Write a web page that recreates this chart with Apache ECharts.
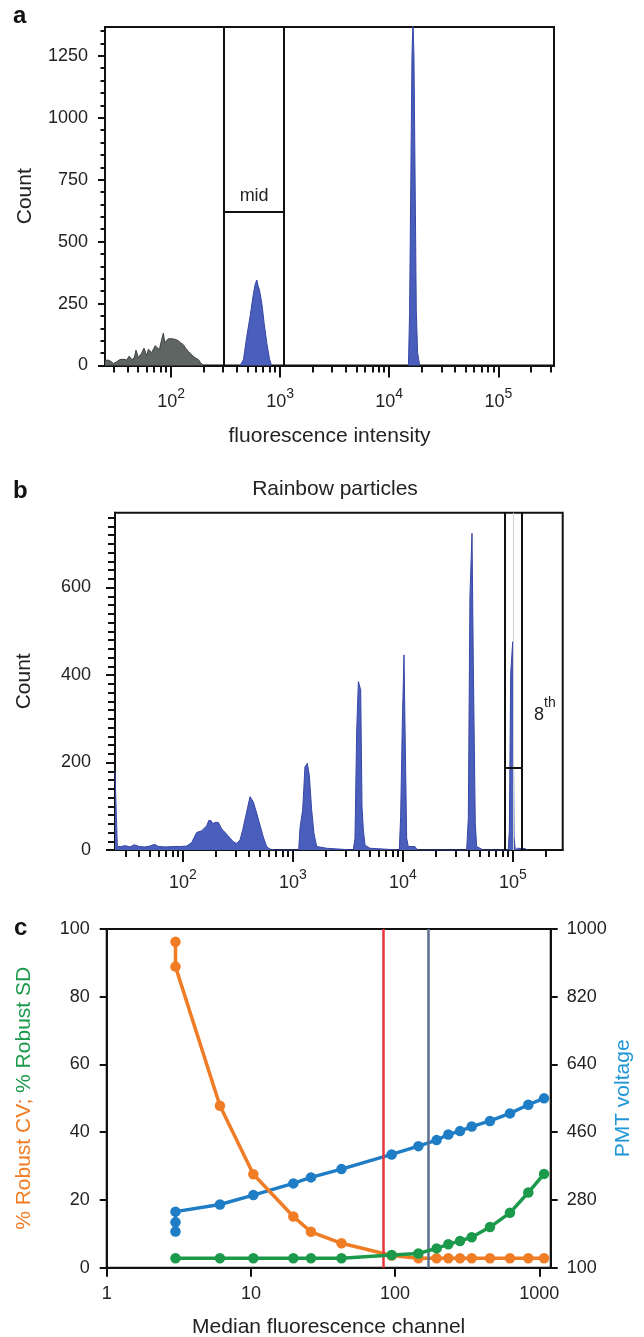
<!DOCTYPE html>
<html>
<head>
<meta charset="utf-8">
<script src="https://cdn.jsdelivr.net/npm/echarts@6/dist/echarts.min.js"></script>
<style>
  html, body { margin: 0; padding: 0; background: #fff; }
  #chart { width: 644px; height: 1337px; }
</style>
</head>
<body>
<div id="chart"></div>
<script>
// ---- panel a : one sample, three populations ----
const countTicksA = [0, 250, 500, 750, 1000, 1250];
const decadeTicks = [100, 1000, 10000, 100000];
const dimPeakA = [
  [24.8, 20], [26.5, 22], [28.2, 16], [29.6, 8], [31.5, 14], [34.0, 24], [37.0, 25],
  [39.2, 22], [41.4, 38], [43.6, 24], [46.0, 30], [47.7, 62], [50.1, 32], [53.5, 48],
  [56.5, 70], [59.8, 40], [62.0, 66], [64.1, 70], [66.5, 52], [68.8, 57], [71.5, 80],
  [74.0, 84], [78.2, 64], [81.5, 100], [85.0, 131], [87.5, 92], [90.0, 90], [94.4, 108],
  [101.5, 108], [108.8, 106], [116.7, 100], [122, 92], [129.7, 84], [136, 70], [144.2, 57],
  [152, 46], [160.2, 37], [168, 30], [178.0, 24], [186, 12], [191.2, 5], [197.9, 0]
];
const midPeakA = [
  [430, 0], [461, 24], [495, 118], [530, 198], [569, 290], [592, 330], [611, 345],
  [628, 322], [646, 305], [679, 252], [713, 171], [755, 90], [798, 28], [834, 0]
];
const brightPeakA = [
  [15000, 0], [15370, 213], [15830, 815], [16160, 1242], [16500, 1400], [16860, 1242],
  [17330, 675], [17700, 225], [18200, 52], [19000, 0]
];
const midGateA = [306, 1090, 622];   // left edge, right edge, marker level

// ---- panel b : rainbow particles ----
const countTicksB = [0, 200, 400, 600];
const rainbowB = [
  [24.1, 179], [25.0, 179], [25.3, 8], [27, 8], [30, 10], [33, 7], [36, 12], [40, 8],
  [45, 7], [50, 9], [55, 13], [60, 8], [70, 7], [80, 8], [95, 8], [108, 9], [120, 17],
  [133, 40], [148, 44], [164, 55], [172, 68], [180, 67], [187, 60], [195, 63], [210, 63],
  [225, 48], [246, 38], [268, 27], [287, 19], [308, 15], [330, 23], [349, 46], [380, 88],
  [407, 122], [436, 110], [468, 84], [501, 57], [537, 30], [576, 8], [618, 2], [700, 0],
  [1127, 0], [1158, 50], [1225, 92], [1285, 190], [1350, 198], [1407, 171], [1478, 92],
  [1552, 38], [1641, 8], [2024, 4], [2100, 0],
  [3530, 0], [3660, 27], [3795, 274], [3930, 385], [4125, 366], [4240, 99], [4360, 46],
  [4515, 11], [5012, 4], [5200, 0],
  [9250, 0], [9520, 76], [9860, 290], [10210, 446], [10500, 236], [10800, 27], [11170, 8],
  [12850, 8], [13500, 0],
  [37900, 0], [39250, 72], [40600, 579], [42400, 724], [43600, 419], [45400, 61],
  [46750, 8], [53700, 0],
  [90600, 0], [92700, 46], [95300, 404], [99400, 476], [102200, 30], [105000, 0],
  [110000, 4], [130000, 3], [135000, 0]
];
const gate8thB = [83400, 120000, 187];
const label8thB = [195000, 320];

// ---- panel c : performance vs. PMT voltage ----
const channelTicks = [1, 10, 100, 1000];
const pctTicks = [0, 20, 40, 60, 80, 100];
const voltTicks = [100, 280, 460, 640, 820, 1000];
const cvX = [3.0, 3.0, 6.1, 10.4, 19.7, 26.1, 42.5, 94.7, 145, 194, 234, 282, 340, 455, 626, 839, 1079];
const cvY = [96.2, 88.9, 47.8, 27.6, 15.1, 10.6, 7.2, 3.6, 2.8, 2.8, 2.8, 2.8, 2.8, 2.8, 2.8, 2.8, 2.8];
const sdX = [3.0, 6.1, 10.4, 19.7, 26.1, 42.5, 94.7, 145, 194, 234, 282, 340, 455, 626, 839, 1079];
const sdY = [2.8, 2.8, 2.8, 2.8, 2.8, 2.8, 3.75, 4.2, 5.7, 6.9, 7.9, 9.0, 12.0, 16.2, 22.2, 27.7];
const pmtX = [3.0, 3.0, 3.0, 6.1, 10.4, 19.7, 26.1, 42.5, 94.7, 145, 194, 234, 282, 340, 455, 626, 839, 1079];
const pmtY = [196, 221, 249, 268, 293, 324, 340, 362, 401, 423, 439, 454, 463, 475, 490, 510, 533, 550];
const redLineC = 82.8;
const greyLineC = 170;

// minor ticks of the log axes: 2..9 x 10^n
const minorDecadeTicks = [];
for (let d = 1; d <= 5; d++) {
  for (let k = 2; k <= 9; k++) minorDecadeTicks.push(k * Math.pow(10, d));
}

const FONT = '"Liberation Sans", Arial, Helvetica, sans-serif';
const INK = '#222';
const BLUE_FILL = '#4a5ebb';
const BLUE_EDGE = '#3747a8';
const ORANGE = '#f07d26';
const GREEN = '#1b9a4c';
const PMT_BLUE = '#1f7dc6';

const plain = v => String(v);
const powRich = {
  b: { fontSize: 18, lineHeight: 24, verticalAlign: 'bottom', color: INK, fontFamily: FONT },
  s: { fontSize: 14, lineHeight: 20, verticalAlign: 'top', color: INK, fontFamily: FONT }
};
const powLabel = v => '{b|10}{s|' + Math.round(Math.log10(v)) + '}';

function logX(gridIndex, min, max, margin, name, nameGap) {
  return [{
    type: 'log', gridIndex, min, max, position: 'bottom',
    name, nameLocation: 'middle', nameGap, nameMoveOverlap: false,
    nameTextStyle: { fontSize: 21, color: INK, fontFamily: FONT },
    axisLine: { lineStyle: { color: '#111', width: 2 } },
    axisTick: { inside: false, length: 12, lineStyle: { color: '#111', width: 2 }, customValues: decadeTicks },
    axisLabel: { margin, formatter: powLabel, rich: powRich, customValues: decadeTicks },
    splitLine: { show: false }
  }, {
    type: 'log', gridIndex, min, max, position: 'bottom',
    axisLine: { show: false },
    axisTick: { inside: false, length: 7, lineStyle: { color: '#111', width: 2 }, customValues: minorDecadeTicks },
    axisLabel: { show: false },
    splitLine: { show: false }
  }];
}

function countY(gridIndex, max, interval, ticks, minorSplit, minorLen, tickLen, margin, nameGap) {
  return {
    type: 'value', gridIndex, min: 0, max, interval,
    name: 'Count', nameLocation: 'middle', nameGap, nameRotate: 90, nameMoveOverlap: false,
    nameTextStyle: { fontSize: 21, color: INK, fontFamily: FONT },
    axisLine: { show: true, lineStyle: { color: '#111', width: 2 } },
    axisTick: { show: true, length: tickLen, lineStyle: { color: '#111', width: 2 }, customValues: ticks },
    minorTick: { show: true, splitNumber: minorSplit, length: minorLen, lineStyle: { color: '#111', width: 2 } },
    axisLabel: { margin, fontSize: 18, color: INK, fontFamily: FONT, formatter: plain, customValues: ticks },
    splitLine: { show: false }
  };
}

function histSeries(data, xi, yi, fill, edge) {
  return {
    type: 'line', data, xAxisIndex: xi, yAxisIndex: yi,
    symbol: 'none', showSymbol: false, silent: true,
    lineStyle: { color: edge, width: 1 },
    areaStyle: { color: fill, opacity: 1 },
    z: 2
  };
}

function gateSeries(xi, yi, gate, labelText) {
  const lbl = { show: !!labelText, formatter: labelText, position: 'middle', distance: 6,
    fontSize: 18, color: INK, fontFamily: FONT };
  return {
    type: 'line', data: [], xAxisIndex: xi, yAxisIndex: yi, z: 3,
    markLine: {
      silent: true, symbol: ['none', 'none'], animation: false,
      lineStyle: { color: '#111', width: 2, type: 'solid' },
      label: { show: false },
      data: [
        { xAxis: gate[0] },
        { xAxis: gate[1] },
        [{ coord: [gate[0], gate[2]], label: lbl }, { coord: [gate[1], gate[2]] }]
      ]
    }
  };
}

const pairs = (xs, ys) => xs.map((x, i) => [x, ys[i]]);

function pointSeries(name, xs, ys, yi, color, z) {
  return {
    name, type: 'line', data: pairs(xs, ys), xAxisIndex: 4, yAxisIndex: yi,
    symbol: 'circle', symbolSize: 10.5, showSymbol: true, silent: true,
    lineStyle: { color, width: 3.5 }, itemStyle: { color }, z
  };
}

const gridBase = { show: true, borderColor: '#111', borderWidth: 2, backgroundColor: 'transparent',
  containLabel: false, outerBoundsMode: 'none' };

const option = {
  animation: false,
  textStyle: { fontFamily: FONT },
  grid: [
    Object.assign({ left: 105, top: 27, width: 449, height: 338.5 }, gridBase),
    Object.assign({ left: 115, top: 512.7, width: 447.7, height: 337.3 }, gridBase),
    Object.assign({ left: 106.7, top: 929, width: 444, height: 338.7 }, gridBase)
  ],
  xAxis: [
    ...logX(0, 24.8, 324000, 22, 'fluorescence intensity', 60),
    ...logX(1, 24.1, 283000, 18.5, '', 0),
    {
      type: 'log', gridIndex: 2, min: 1, max: 1200, position: 'bottom',
      name: 'Median fluorescence channel', nameLocation: 'middle', nameGap: 49, nameMoveOverlap: false,
      nameTextStyle: { fontSize: 21, color: INK, fontFamily: FONT },
      axisLine: { lineStyle: { color: '#111', width: 2 } },
      axisTick: { length: 9, lineStyle: { color: '#111', width: 2 }, customValues: channelTicks },
      axisLabel: { margin: 17, fontSize: 18, color: INK, fontFamily: FONT, formatter: plain, customValues: channelTicks },
      splitLine: { show: false }
    }
  ],
  yAxis: [
    countY(0, 1366, 250, countTicksA, 5, 4.5, 7, 17, 69),
    countY(1, 771, 200, countTicksB, 10, 7, 9, 24, 80),
    {
      type: 'value', gridIndex: 2, min: 0, max: 100, interval: 20, position: 'left',
      name: '{o|% Robust CV; }{g|% Robust SD}', nameLocation: 'middle', nameGap: 72, nameRotate: 90,
      nameMoveOverlap: false,
      nameTextStyle: { fontSize: 21, fontFamily: FONT, rich: {
        o: { color: ORANGE, fontSize: 21, fontFamily: FONT },
        g: { color: GREEN, fontSize: 21, fontFamily: FONT } } },
      axisLine: { show: true, lineStyle: { color: '#111', width: 2 } },
      axisTick: { show: true, length: 7, lineStyle: { color: '#111', width: 2 }, customValues: pctTicks },
      axisLabel: { margin: 17, fontSize: 18, color: INK, fontFamily: FONT, formatter: plain, customValues: pctTicks },
      splitLine: { show: false }
    },
    {
      type: 'value', gridIndex: 2, min: 100, max: 1000, position: 'right',
      name: 'PMT voltage', nameLocation: 'middle', nameGap: 62, nameRotate: 90, nameMoveOverlap: false,
      nameTextStyle: { fontSize: 21, color: '#2196d6', fontFamily: FONT },
      axisLine: { show: true, lineStyle: { color: '#111', width: 2 } },
      axisTick: { show: true, length: 7, lineStyle: { color: '#111', width: 2 }, customValues: voltTicks },
      axisLabel: { margin: 16, fontSize: 18, color: INK, fontFamily: FONT, formatter: plain, customValues: voltTicks },
      splitLine: { show: false }
    }
  ],
  graphic: [
    { type: 'text', style: { text: 'a', x: 13, y: 16.6, font: 'bold 24px ' + FONT, fill: '#111', textVerticalAlign: 'middle' } },
    { type: 'text', style: { text: 'b', x: 13, y: 491.6, font: 'bold 24px ' + FONT, fill: '#111', textVerticalAlign: 'middle' } },
    { type: 'text', style: { text: 'c', x: 14, y: 928.6, font: 'bold 24px ' + FONT, fill: '#111', textVerticalAlign: 'middle' } },
    { type: 'text', style: { text: 'Rainbow particles', x: 335, y: 489.6, font: '21px ' + FONT, fill: INK,
      textAlign: 'center', textVerticalAlign: 'middle' } }
  ],
  series: [
    // panel a
    histSeries(dimPeakA, 0, 0, '#5e6563', '#3e4442'),
    histSeries(midPeakA, 0, 0, BLUE_FILL, BLUE_EDGE),
    histSeries(brightPeakA, 0, 0, BLUE_FILL, BLUE_EDGE),
    gateSeries(0, 0, midGateA, 'mid'),
    // panel b
    {
      type: 'line', data: [], xAxisIndex: 2, yAxisIndex: 1, z: 1,
      markLine: { silent: true, symbol: ['none', 'none'], animation: false, label: { show: false },
        lineStyle: { color: '#cfcfcf', width: 1, type: 'solid' }, data: [{ xAxis: 100000 }] }
    },
    histSeries(rainbowB, 2, 1, BLUE_FILL, BLUE_EDGE),
    gateSeries(2, 1, gate8thB, ''),
    {
      type: 'line', data: [], xAxisIndex: 2, yAxisIndex: 1, z: 4,
      markPoint: {
        silent: true, symbol: 'circle', symbolSize: 1, itemStyle: { color: 'rgba(0,0,0,0)' },
        label: { show: true, position: 'inside', formatter: '{b|8}{s|th}', rich: {
          b: { fontSize: 18, lineHeight: 28, verticalAlign: 'bottom', color: INK, fontFamily: FONT },
          s: { fontSize: 14, lineHeight: 10, verticalAlign: 'top', color: INK, fontFamily: FONT } } },
        data: [{ coord: label8thB }]
      }
    },
    // panel c
    {
      type: 'line', data: [], xAxisIndex: 4, yAxisIndex: 2, z: 1,
      markLine: { silent: true, symbol: ['none', 'none'], animation: false, label: { show: false },
        lineStyle: { width: 2.5, type: 'solid' },
        data: [
          { xAxis: redLineC, lineStyle: { color: '#e8343c', width: 2.5, type: 'solid' } },
          { xAxis: greyLineC, lineStyle: { color: '#5b6e8d', width: 2.5, type: 'solid' } }
        ] }
    },
    pointSeries('PMT voltage', pmtX, pmtY, 3, PMT_BLUE, 3),
    pointSeries('% Robust CV', cvX, cvY, 2, ORANGE, 4),
    pointSeries('% Robust SD', sdX, sdY, 2, GREEN, 5)
  ]
};

const chart = echarts.init(document.getElementById('chart'), null, { renderer: 'canvas' });
chart.setOption(option);
</script>
</body>
</html>
